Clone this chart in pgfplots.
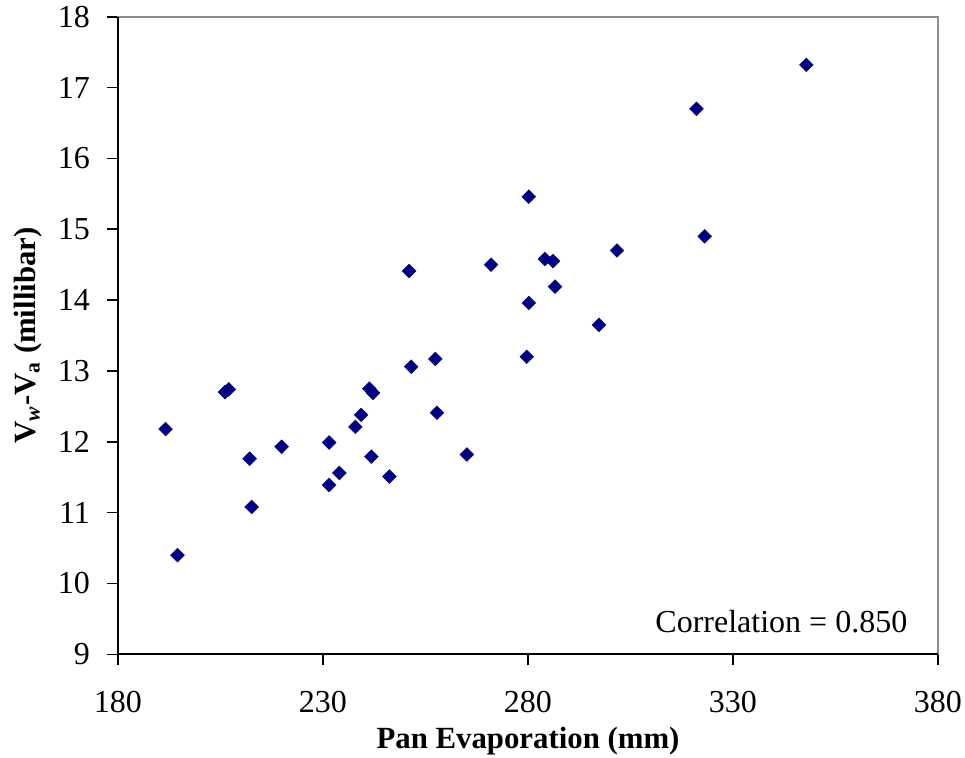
\documentclass[border=0pt]{standalone}
\usepackage{fontspec}
\setmainfont{Liberation Serif}
\usepackage{pgfplots}
\pgfplotsset{compat=1.18}
\definecolor{navy}{RGB}{0,0,128}

\begin{document}
\begin{tikzpicture}
\useasboundingbox (-59pt,-51.35pt) rectangle (423.5pt,327.15pt);
\begin{axis}[
  scale only axis, width=410pt, height=318.8pt,
  xmin=180, xmax=380, ymin=9, ymax=18,
  xtick={180,230,...,380}, ytick={9,10,...,18},
  tick align=outside, xtick pos=bottom, ytick pos=left,
  major tick length=5.5pt,
  tick style={black, line width=0.8pt},
  axis line style={gray!90, line width=1pt},
  /pgf/number format/assume math mode=true,
  ticklabel style={font=\fontsize{16}{19}\selectfont},
  xticklabel style={yshift=-9.5pt},
  yticklabel style={xshift=-5pt},
  label style={font=\fontsize{15.4}{18}\selectfont\bfseries},
  xlabel={Pan Evaporation (mm)},
  ylabel={V\textsubscript{\textit{w}}-V\textsubscript{a} (millibar)},
  xlabel style={at={(axis description cs:0.5,-0.136)}, anchor=center},
  ylabel style={at={(axis description cs:-0.11,0.5)}, anchor=center},
  clip=false,
]
\addplot[only marks, mark=square*, mark size=2.45pt,
  mark options={rotate=45, fill=navy, draw=navy, line width=0.2pt}]
coordinates {
(191.6,12.18) (194.5,10.40) (206.1,12.70) (207.0,12.74)
(212.1,11.76) (212.6,11.08) (219.9,11.93) (231.5,11.99)
(231.5,11.39) (234.0,11.56) (237.9,12.21) (239.3,12.38)
(241.3,12.75) (242.2,12.69) (241.8,11.79) (246.2,11.51)
(251.5,13.06) (257.4,13.17) (257.8,12.41) (265.1,11.82)
(347.9,17.32) (321.1,16.70) (280.2,15.46) (323.1,14.90)
(301.7,14.70) (284.1,14.58) (286.1,14.55) (286.6,14.19)
(280.2,13.96) (297.3,13.65) (251.0,14.41) (271.0,14.50)
(279.7,13.20)
};
\draw[black, line width=1pt] (rel axis cs:0,1) -- (rel axis cs:0,0) -- (rel axis cs:1,0);
\node[anchor=base east, inner sep=0pt, font=\fontsize{16}{19}\selectfont] at (axis description cs:0.963,0.034) {Correlation = 0.850};
\end{axis}
\end{tikzpicture}
\end{document}
